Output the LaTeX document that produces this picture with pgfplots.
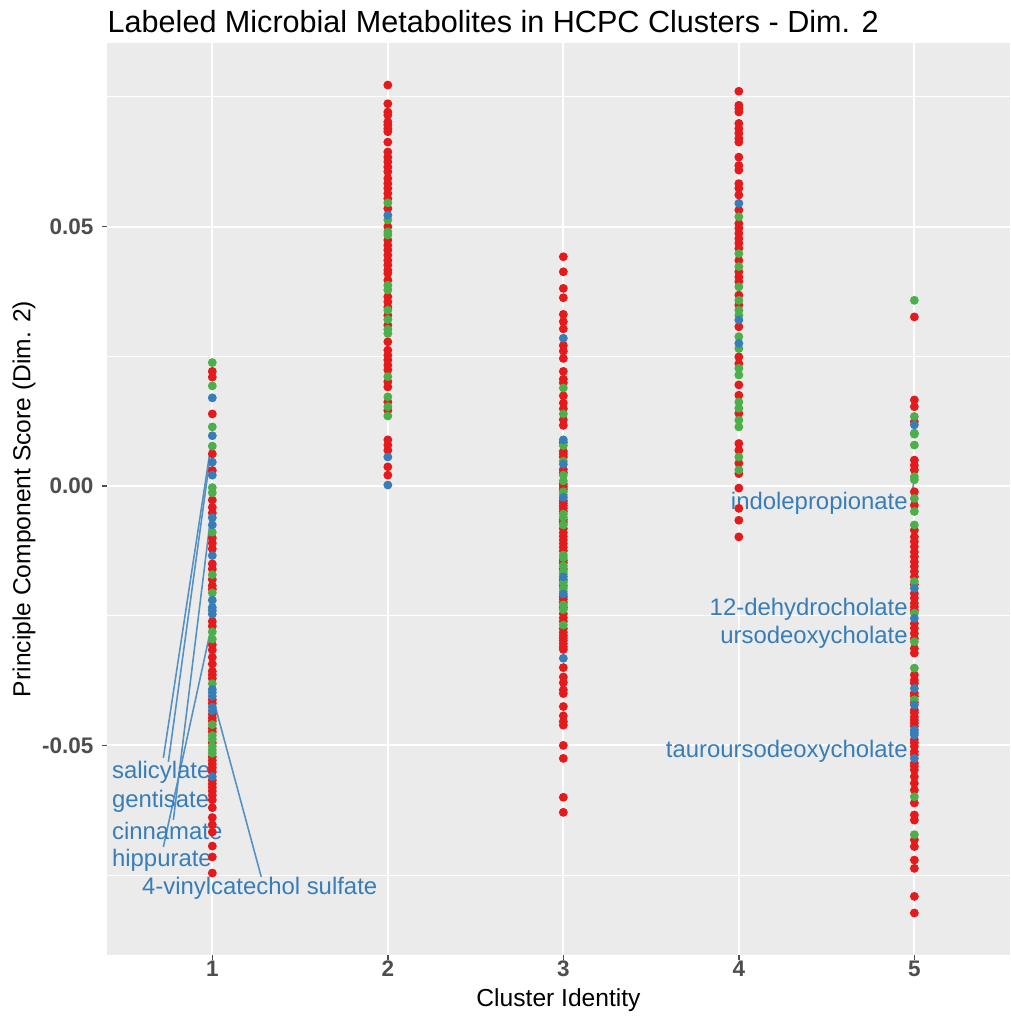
\documentclass[border=0pt]{standalone}
\usepackage{fontspec}
\setmainfont{Liberation Sans}
\usepackage{pgfplots}
\pgfplotsset{compat=1.18}
\definecolor{ggbg}{HTML}{EBEBEB}
\definecolor{sred}{HTML}{E41A1C}
\definecolor{sgreen}{HTML}{4DAF4A}
\definecolor{sblue}{HTML}{377EB8}
\definecolor{ticktxt}{HTML}{4D4D4D}
\tikzset{
  lbl/.style={text=sblue, font=\fontsize{6.8}{8}\selectfont, inner sep=0pt},
  seg/.style={sblue!85!white, line width=0.45pt},
}

% cluster / score, one table per colour
\pgfplotstableread{
x y
1 0.0221
1 0.0210
1 0.0139
1 0.0062
1 0.0030
1 -0.0027
1 -0.0041
1 -0.0052
1 -0.0100
1 -0.0110
1 -0.0121
1 -0.0150
1 -0.0160
1 -0.0180
1 -0.0192
1 -0.0199
1 -0.0261
1 -0.0270
1 -0.0306
1 -0.0316
1 -0.0330
1 -0.0343
1 -0.0357
1 -0.0364
1 -0.0371
1 -0.0412
1 -0.0419
1 -0.0440
1 -0.0447
1 -0.0453
1 -0.0467
1 -0.0474
1 -0.0495
1 -0.0522
1 -0.0529
1 -0.0536
1 -0.0543
1 -0.0551
1 -0.0567
1 -0.0574
1 -0.0581
1 -0.0588
1 -0.0596
1 -0.0605
1 -0.0620
1 -0.0639
1 -0.0653
1 -0.0667
1 -0.0694
1 -0.0715
1 -0.0746
2 0.0773
2 0.0737
2 0.0721
2 0.0715
2 0.0702
2 0.0696
2 0.0689
2 0.0683
2 0.0663
2 0.0644
2 0.0634
2 0.0625
2 0.0615
2 0.0606
2 0.0593
2 0.0583
2 0.0574
2 0.0564
2 0.0554
2 0.0535
2 0.0500
2 0.0474
2 0.0464
2 0.0455
2 0.0445
2 0.0435
2 0.0426
2 0.0416
2 0.0410
2 0.0397
2 0.0365
2 0.0355
2 0.0345
2 0.0329
2 0.0310
2 0.0278
2 0.0262
2 0.0252
2 0.0243
2 0.0233
2 0.0224
2 0.0201
2 0.0191
2 0.0162
2 0.0146
2 0.0089
2 0.0079
2 0.0069
2 0.0037
2 0.0021
3 0.0442
3 0.0413
3 0.0381
3 0.0363
3 0.0331
3 0.0317
3 0.0303
3 0.0271
3 0.0260
3 0.0246
3 0.0221
3 0.0206
3 0.0199
3 0.0174
3 0.0160
3 0.0149
3 0.0128
3 0.0117
3 0.0084
3 0.0067
3 0.0062
3 0.0056
3 0.0032
3 0.0026
3 0.0004
3 -0.0001
3 -0.0006
3 -0.0028
3 -0.0033
3 -0.0038
3 -0.0043
3 -0.0049
3 -0.0065
3 -0.0070
3 -0.0082
3 -0.0090
3 -0.0097
3 -0.0104
3 -0.0111
3 -0.0118
3 -0.0125
3 -0.0143
3 -0.0148
3 -0.0160
3 -0.0181
3 -0.0192
3 -0.0213
3 -0.0218
3 -0.0224
3 -0.0234
3 -0.0246
3 -0.0254
3 -0.0261
3 -0.0275
3 -0.0282
3 -0.0288
3 -0.0293
3 -0.0298
3 -0.0304
3 -0.0310
3 -0.0315
3 -0.0350
3 -0.0368
3 -0.0379
3 -0.0393
3 -0.0400
3 -0.0425
3 -0.0443
3 -0.0454
3 -0.0461
3 -0.0500
3 -0.0525
3 -0.0600
3 -0.0629
4 0.0761
4 0.0734
4 0.0728
4 0.0721
4 0.0699
4 0.0689
4 0.0680
4 0.0670
4 0.0663
4 0.0634
4 0.0618
4 0.0609
4 0.0583
4 0.0574
4 0.0561
4 0.0532
4 0.0506
4 0.0497
4 0.0487
4 0.0477
4 0.0468
4 0.0458
4 0.0435
4 0.0413
4 0.0403
4 0.0394
4 0.0368
4 0.0349
4 0.0307
4 0.0249
4 0.0236
4 0.0195
4 0.0175
4 0.0140
4 0.0082
4 0.0069
4 0.0044
4 0.0024
4 -0.0004
4 -0.0043
4 -0.0066
4 -0.0098
5 0.0326
5 0.0166
5 0.0153
5 0.0124
5 0.0050
5 0.0040
5 0.0031
5 -0.0011
5 -0.0037
5 -0.0085
5 -0.0098
5 -0.0107
5 -0.0117
5 -0.0127
5 -0.0136
5 -0.0146
5 -0.0155
5 -0.0165
5 -0.0175
5 -0.0190
5 -0.0207
5 -0.0216
5 -0.0226
5 -0.0233
5 -0.0240
5 -0.0265
5 -0.0274
5 -0.0284
5 -0.0294
5 -0.0313
5 -0.0322
5 -0.0364
5 -0.0374
5 -0.0380
5 -0.0399
5 -0.0405
5 -0.0417
5 -0.0432
5 -0.0437
5 -0.0445
5 -0.0451
5 -0.0457
5 -0.0463
5 -0.0489
5 -0.0495
5 -0.0502
5 -0.0512
5 -0.0518
5 -0.0534
5 -0.0540
5 -0.0547
5 -0.0560
5 -0.0573
5 -0.0586
5 -0.0611
5 -0.0634
5 -0.0644
5 -0.0682
5 -0.0695
5 -0.0721
5 -0.0737
5 -0.0791
5 -0.0823
}\redpts

\pgfplotstableread{
x y
1 0.0238
1 0.0193
1 0.0114
1 0.0077
1 -0.0003
1 -0.0013
1 -0.0089
1 -0.0171
1 -0.0206
1 -0.0281
1 -0.0295
1 -0.0381
1 -0.0460
1 -0.0481
1 -0.0488
1 -0.0502
1 -0.0509
1 -0.0515
2 0.0546
2 0.0513
2 0.0490
2 0.0484
2 0.0387
2 0.0378
2 0.0339
2 0.0321
2 0.0302
2 0.0294
2 0.0211
2 0.0172
2 0.0153
2 0.0135
3 0.0189
3 0.0139
3 0.0078
3 0.0048
3 0.0021
3 0.0010
3 -0.0011
3 -0.0017
3 -0.0054
3 -0.0060
3 -0.0075
3 -0.0133
3 -0.0138
3 -0.0154
3 -0.0165
3 -0.0170
3 -0.0186
3 -0.0197
3 -0.0203
3 -0.0229
3 -0.0238
3 -0.0268
4 0.0519
4 0.0448
4 0.0423
4 0.0384
4 0.0358
4 0.0339
4 0.0329
4 0.0288
4 0.0265
4 0.0227
4 0.0214
4 0.0162
4 0.0150
4 0.0127
4 0.0114
4 0.0056
4 0.0031
5 0.0358
5 0.0134
5 0.0102
5 0.0100
5 0.0079
5 0.0018
5 0.0012
5 -0.0024
5 -0.0049
5 -0.0075
5 -0.0184
5 -0.0245
5 -0.0300
5 -0.0351
5 -0.0412
5 -0.0599
5 -0.0672
}\greenpts

\pgfplotstableread{
x y
1 0.0170
1 0.0097
1 0.0046
1 0.0021
1 -0.0061
1 -0.0075
1 -0.0134
1 -0.0220
1 -0.0234
1 -0.0240
1 -0.0247
1 -0.0392
1 -0.0398
1 -0.0405
1 -0.0426
1 -0.0433
1 -0.0560
2 0.0522
2 0.0056
2 0.0002
3 0.0285
3 0.0089
3 0.0042
3 -0.0022
3 -0.0175
3 -0.0208
3 -0.0332
4 0.0545
4 0.0320
4 0.0275
5 0.0118
5 -0.0197
5 -0.0255
5 -0.0390
5 -0.0422
5 -0.0470
5 -0.0475
5 -0.0480
5 -0.0525
}\bluepts

\begin{document}
\begin{tikzpicture}
\useasboundingbox (0,0) rectangle (10.10cm,10.17cm);
\node[anchor=base west, inner sep=0pt, font=\fontsize{8.7}{10}\selectfont]
  at (1.07cm,9.84cm) {Labeled Microbial Metabolites in HCPC Clusters - Dim. 2};
\begin{axis}[
    at={(1.07cm,0.62cm)}, anchor=south west,
    scale only axis,
    width=9.03cm, height=9.12cm,
    xmin=0.4, xmax=5.545,
    ymin=-0.0904, ymax=0.0854,
    axis background/.style={fill=ggbg},
    axis line style={draw=none},
    scaled y ticks=false,
    tick pos=left,
    xtick={1,2,3,4,5}, xticklabels={1,2,3,4,5},
    ytick={-0.05,0,0.05}, yticklabels={-0.05,0.00,0.05},
    minor ytick={-0.075,-0.025,0.025,0.075},
    grid=both,
    major grid style={white, line width=0.6pt},
    minor grid style={white, line width=0.3pt},
    tick align=outside,
    major tick length=0.05cm, minor tick length=0pt,
    tick style={ticktxt, line width=0.4pt},
    tick label style={font=\fontsize{6.4}{7}\selectfont\bfseries, text=ticktxt},
    xticklabel style={anchor=north, inner sep=0pt, yshift=0cm},
    yticklabel style={anchor=east, inner sep=0pt, xshift=-0.08cm},
    xlabel={Cluster Identity},
    ylabel={Principle Component Score (Dim. 2)},
    label style={font=\fontsize{7}{8}\selectfont},
    xlabel style={at={(axis description cs:0.5,-0.049)}, anchor=center},
    ylabel style={at={(axis description cs:-0.092,0.5)}, anchor=center},
    mark size=1.05pt,
]
\addplot[only marks, mark=*, color=sred, mark options={draw=none, fill=sred}] table[x=x, y=y] {\redpts};
\addplot[only marks, mark=*, color=sgreen, mark options={draw=none, fill=sgreen}] table[x=x, y=y] {\greenpts};
\addplot[only marks, mark=*, color=sblue, mark options={draw=none, fill=sblue}] table[x=x, y=y] {\bluepts};

% repel segments
\draw[seg] (axis cs:0.9943,0.00829) -- (axis cs:0.7212,-0.05241);
\draw[seg] (axis cs:0.9829,0.00443) -- (axis cs:0.7496,-0.05318);
\draw[seg] (axis cs:0.9886,-0.00655) -- (axis cs:0.7781,-0.06435);
\draw[seg] (axis cs:0.9943,-0.02717) -- (axis cs:0.7212,-0.06956);
\draw[seg] (axis cs:1.0114,-0.04181) -- (axis cs:1.2788,-0.07534);
\draw[seg] (axis cs:4.995,0.0006) -- (axis cs:4.990,-0.0010);

\node[lbl, anchor=west] at (axis cs:0.425,-0.0551) {salicylate};
\node[lbl, anchor=west] at (axis cs:0.425,-0.0607) {gentisate};
\node[lbl, anchor=west] at (axis cs:0.425,-0.0665) {cinnamate};
\node[lbl, anchor=west] at (axis cs:0.425,-0.0721) {hippurate};
\node[lbl, anchor=west] at (axis cs:0.596,-0.0775) {4-vinylcatechol sulfate};
\node[lbl, anchor=east] at (axis cs:4.966,-0.0033) {indolepropionate};
\node[lbl, anchor=east] at (axis cs:4.966,-0.0237) {12-dehydrocholate};
\node[lbl, anchor=east] at (axis cs:4.966,-0.0291) {ursodeoxycholate};
\node[lbl, anchor=east] at (axis cs:4.966,-0.0511) {tauroursodeoxycholate};
\end{axis}
\end{tikzpicture}
\end{document}
